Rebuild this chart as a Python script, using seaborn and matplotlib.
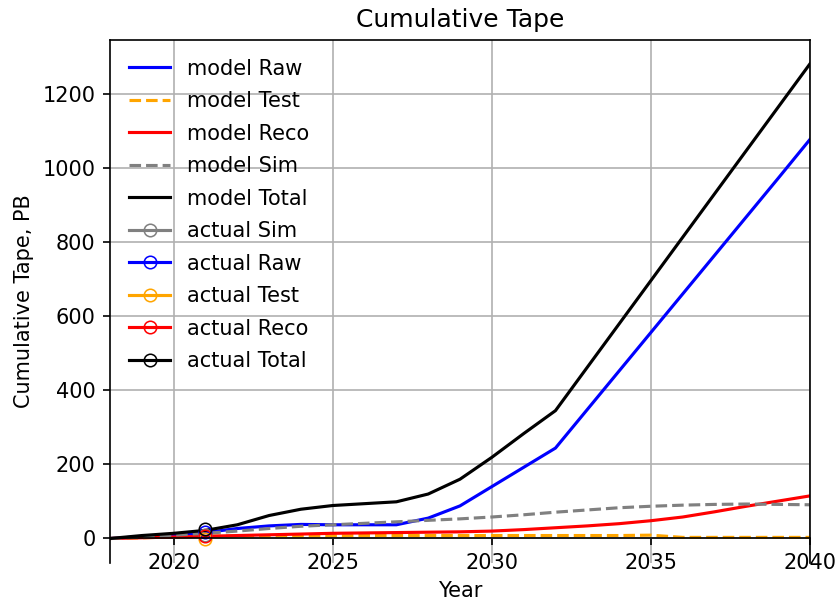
import pandas as pd
import matplotlib
matplotlib.use("Agg")
import matplotlib.pyplot as plt
from matplotlib.ticker import MultipleLocator
import seaborn as sns

years = list(range(2018, 2041))

model_raw = [0, 5, 10, 16, 27, 34, 38, 37, 37, 37, 55, 88, 140, 192, 244,
             348, 452, 556, 660, 764, 868, 972, 1077]
model_test = [0, 2, 4, 6, 7, 7, 7, 7, 8, 8, 8, 8, 8, 8, 8,
              8, 8, 9, 3, 3, 3, 3, 3]
model_reco = [0, 2, 4, 6, 8, 10, 12, 14, 15, 16, 17, 18, 20, 24, 29,
              34, 40, 48, 58, 72, 87, 101, 115]
model_sim = [0, 4, 9, 14, 20, 27, 33, 37, 41, 45, 49, 53, 58, 64, 71,
             77, 83, 87, 90, 92, 93, 92, 91]
model_total = [0, 8, 14, 22, 37, 62, 79, 89, 94, 99, 120, 160, 219, 283, 345,
               462, 579, 696, 813, 930, 1047, 1164, 1281]

actual_years = [2021]
actual_sim = [10]
actual_raw = [18]
actual_test = [-2]
actual_reco = [7]
actual_total = [25]

fig = plt.figure(figsize=(836 / 150, 605 / 150), dpi=150)
ax = fig.add_axes([0.1316, 0.0694, 0.8373, 0.8645])

model = [
    ('model Raw', model_raw, 'blue', '-'),
    ('model Test', model_test, 'orange', '--'),
    ('model Reco', model_reco, 'red', '-'),
    ('model Sim', model_sim, 'gray', '--'),
    ('model Total', model_total, 'black', '-'),
]
for label, vals, color, ls in model:
    sns.lineplot(x=years, y=vals, ax=ax, color=color, linestyle=ls, label=label)

actual = [
    ('actual Sim', actual_sim, 'gray'),
    ('actual Raw', actual_raw, 'blue'),
    ('actual Test', actual_test, 'orange'),
    ('actual Reco', actual_reco, 'red'),
    ('actual Total', actual_total, 'black'),
]
for label, vals, color in actual:
    sns.lineplot(x=actual_years, y=vals, ax=ax, color=color, marker='o',
                 markerfacecolor='none', markeredgecolor=color, label=label)

ax.set_xlim(2018, 2040)
ax.xaxis.set_major_locator(MultipleLocator(5))
ax.spines['bottom'].set_position(('data', 0))
ax.grid(True)
ax.set_title('Cumulative Tape')
ax.set_xlabel('Year')
ax.set_ylabel('Cumulative Tape, PB')
ax.legend(loc='upper left', frameon=False, labelspacing=0.6)

fig.savefig('out.png', dpi=150)
